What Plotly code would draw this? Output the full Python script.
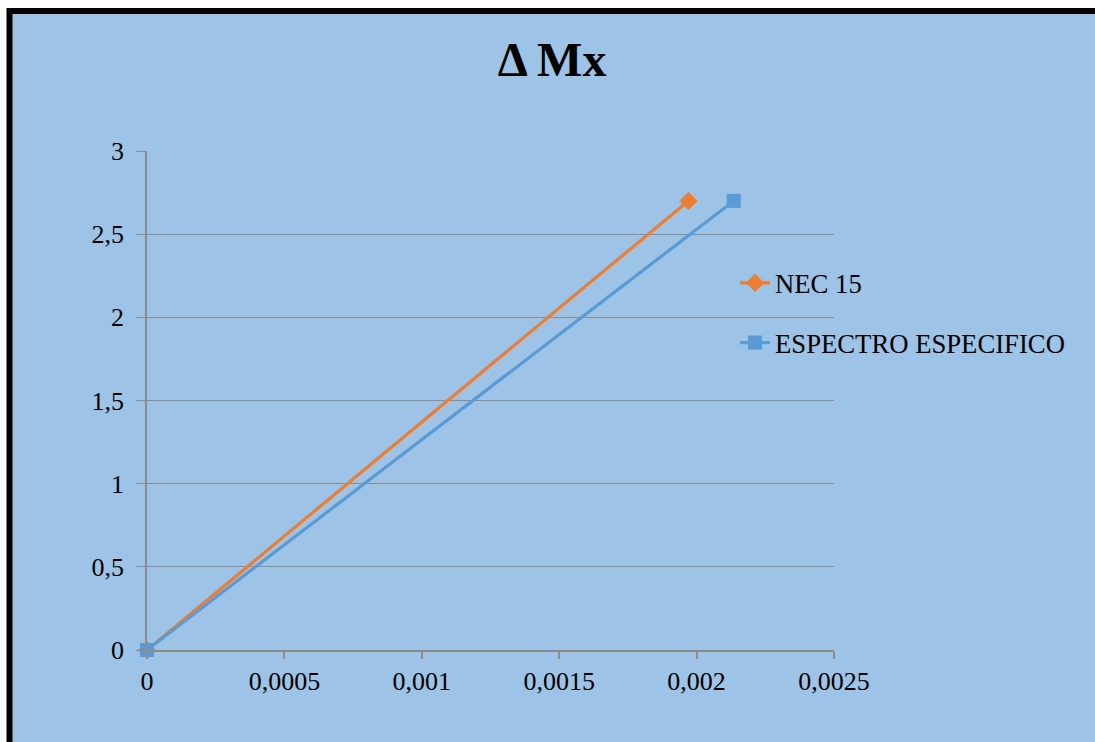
import plotly.graph_objects as go

# Data
series_names = ["NEC 15", "ESPECTRO ESPECIFICO"]
nec_x = [0.0, 0.00197]
nec_y = [0.0, 2.7]
esp_x = [0.0, 0.002135]
esp_y = [0.0, 2.7]
x_tickvals = [0, 0.0005, 0.001, 0.0015, 0.002, 0.0025]
x_ticktext = ["0", "0,0005", "0,001", "0,0015", "0,002", "0,0025"]
y_tickvals = [0, 0.5, 1, 1.5, 2, 2.5, 3]
y_ticktext = ["0", "0,5", "1", "1,5", "2", "2,5", "3"]

ORANGE = "#ED7D31"
BLUE = "#9DC3E6"
SERIES_BLUE = "#5B9BD5"
GRID = "#8C8C8C"
FONT = "Liberation Serif, Times New Roman, serif"

fig = go.Figure()
fig.add_trace(go.Scatter(
    x=nec_x, y=nec_y, name=series_names[0], mode="lines+markers",
    line=dict(color=ORANGE, width=3.2),
    marker=dict(symbol="diamond", size=14, color=ORANGE),
    legendgroup="a", cliponaxis=False,
))
fig.add_trace(go.Scatter(
    x=esp_x, y=esp_y, name=series_names[1], mode="lines+markers",
    line=dict(color=SERIES_BLUE, width=3.2),
    marker=dict(symbol="square", size=14, color=SERIES_BLUE),
    legendgroup="b", cliponaxis=False,
))

W, H = 1095, 742
L, R, T, B = 147, 261, 151, 92
pw, ph = W - L - R, H - T - B

def px_x(p):
    return (p - L) / pw

def px_y(p):
    return (H - B - p) / ph

fig.update_layout(
    width=W, height=H,
    margin=dict(l=L, r=R, t=T, b=B, pad=0),
    paper_bgcolor="white", plot_bgcolor="rgba(0,0,0,0)",
    font=dict(family=FONT, size=26, color="black"),
    title=dict(text="<b>Δ Mx</b>", x=552 / W, xanchor="center",
               y=1 - 59 / H, yanchor="middle", xref="container",
               yref="container", font=dict(size=48, family=FONT, color="black")),
    showlegend=True,
    legend=dict(x=px_x(735), y=px_y(259), xanchor="left", yanchor="top",
                bgcolor="rgba(0,0,0,0)", tracegroupgap=22, traceorder="grouped",
                font=dict(size=26.7, family=FONT)),
    xaxis=dict(range=[0, 0.0025], tickvals=x_tickvals, ticktext=x_ticktext,
               showgrid=False, zeroline=False, showline=True, linecolor=GRID,
               linewidth=1.5, ticks="outside", ticklen=7, tickcolor=GRID, tickwidth=1.5,
               tickfont=dict(size=26, family=FONT), ticklabelstandoff=0),
    yaxis=dict(range=[0, 3], tickvals=y_tickvals, ticktext=y_ticktext,
               showgrid=True, gridcolor=GRID, gridwidth=1, zeroline=False,
               showline=True, linecolor=GRID, linewidth=1.5, ticks="outside",
               ticklen=9, tickcolor=GRID, tickwidth=1,
               tickfont=dict(size=26, family=FONT), ticklabelstandoff=7),
)

# blue chart-area background with thick black frame (right/bottom edges cropped)
fig.add_shape(type="rect", xref="paper", yref="paper",
              x0=px_x(9.5), x1=px_x(W + 40),
              y0=px_y(H + 40), y1=px_y(11),
              line=dict(color="black", width=6), fillcolor=BLUE,
              layer="below")

fig.write_html("out.html",
               config={"displayModeBar": False},
               post_script="document.documentElement.style.overflow='hidden';"
                           "document.body.style.overflow='hidden';"
                           "document.body.style.margin='0';")
